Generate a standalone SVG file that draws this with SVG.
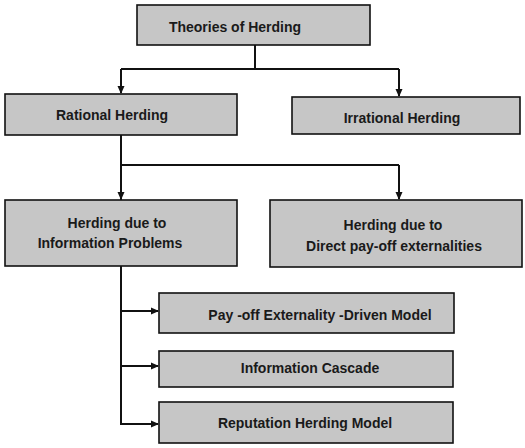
<svg xmlns="http://www.w3.org/2000/svg" width="525" height="448" viewBox="0 0 525 448">
<style>
.box{fill:#c6c6c6;stroke:#111;stroke-width:1.6}
.t{font-family:"Liberation Sans",Arial,sans-serif;font-size:14px;font-weight:bold;fill:#1a1a1a;text-anchor:middle}
.c{fill:none;stroke:#111;stroke-width:2}
</style>
<defs>
<marker id="ah" markerWidth="8" markerHeight="8" refX="7" refY="4" orient="auto" markerUnits="userSpaceOnUse">
<path d="M0,0.5 L8,4 L0,7.5 Z" fill="#111"/>
</marker>
</defs>
<rect width="525" height="448" fill="#fff"/>
<g id="connectors">
<path class="c" d="M255,45 V69"/>
<path class="c" d="M121,69 H399"/>
<path class="c" d="M121,69 V93" marker-end="url(#ah)"/>
<path class="c" d="M399,69 V96" marker-end="url(#ah)"/>
<path class="c" d="M121,135 V424"/>
<path class="c" d="M121,165 H399"/>
<path class="c" d="M121,165 V199" marker-end="url(#ah)"/>
<path class="c" d="M399,165 V199" marker-end="url(#ah)"/>
<path class="c" d="M121,311 H158" marker-end="url(#ah)"/>
<path class="c" d="M121,366 H158" marker-end="url(#ah)"/>
<path class="c" d="M120,424 H158" marker-end="url(#ah)"/>
</g>
<g id="theories"><rect class="box" x="137" y="5" width="233" height="40"/><text class="t" x="235" y="32">Theories of Herding</text></g>
<g id="rational"><rect class="box" x="5" y="94" width="232" height="41"/><text class="t" x="112" y="120">Rational Herding</text></g>
<g id="irrational"><rect class="box" x="292" y="97" width="228" height="37"/><text class="t" x="402" y="123">Irrational Herding</text></g>
<g id="info-problems"><rect class="box" x="5" y="200" width="232" height="66"/><text class="t" x="117" y="228">Herding due to</text><text class="t" x="110" y="248">Information Problems</text></g>
<g id="direct"><rect class="box" x="270" y="200" width="252" height="67"/><text class="t" x="393" y="230">Herding due to</text><text class="t" x="394" y="251">Direct pay-off externalities</text></g>
<g id="payoff"><rect class="box" x="159" y="293" width="295" height="40"/><text class="t" x="320" y="320">Pay -off Externality -Driven Model</text></g>
<g id="cascade"><rect class="box" x="159" y="351" width="294" height="36"/><text class="t" x="310" y="373">Information Cascade</text></g>
<g id="reputation"><rect class="box" x="159" y="402" width="294" height="41"/><text class="t" x="305" y="428">Reputation Herding Model</text></g>
</svg>
